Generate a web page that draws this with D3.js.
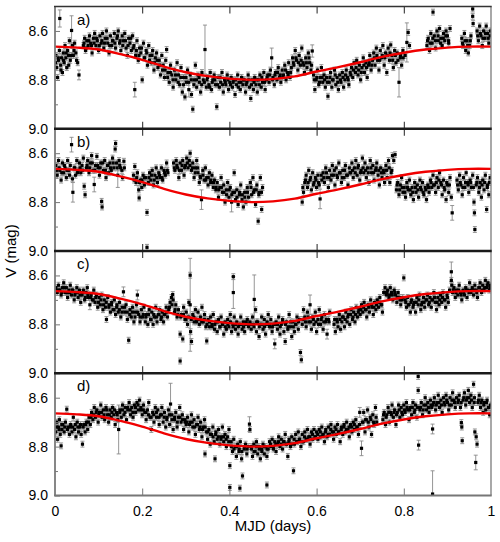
<!DOCTYPE html>
<html>
<head>
<meta charset="utf-8">
<script src="https://cdn.jsdelivr.net/npm/d3@7"></script>
<style>
    body { margin: 0; background: #fff; }
    text { font-family: "Liberation Sans", Arial, sans-serif; fill: #000; }
</style>
</head>
<body>
<svg id="grafico" width="500" height="542"></svg>
<script>
"use strict";

// x axis: phase (MJD days folded), y axis: V magnitude (inverted)
var xTicks = [0, 0.2, 0.4, 0.6, 0.8, 1];
var xTickLabels = ["0", "0.2", "0.4", "0.6", "0.8", "1"];
var yMajor = [8.6, 8.8, 9.0];
var yMinor = [8.7, 8.9];
var panelNames = ["a)", "b)", "c)", "d)"];
var xTitle = "MJD (days)";
var yTitle = "V (mag)";

// typical photometric error when none is given for a point
var typicalErr = 0.012;

// red model curve (same in all four panels)
var curvePhase = [0, 0.05, 0.1, 0.15, 0.2, 0.25, 0.3, 0.35, 0.4, 0.45, 0.5,
    0.55, 0.6, 0.65, 0.7, 0.75, 0.8, 0.85, 0.9, 0.95, 1];
var curveMag = [8.664, 8.668, 8.676, 8.695, 8.718, 8.746, 8.769, 8.785, 8.795, 8.800, 8.797,
    8.786, 8.766, 8.748, 8.728, 8.706, 8.689, 8.676, 8.668, 8.664, 8.664];

// [phase, mag] or [phase, mag, err]
var panelA = [
    [0.002,8.70],[0.004,8.75],[0.006,8.79],[0.008,8.72],[0.010,8.68],[0.011,8.549,0.035],[0.013,8.74],[0.015,8.71],
    [0.017,8.77],[0.019,8.69],[0.021,8.73],[0.023,8.66],[0.025,8.71],[0.027,8.75],[0.029,8.68],[0.031,8.70],
    [0.033,8.64],[0.035,8.72],[0.038,8.598,0.06],[0.040,8.66],[0.042,8.70],[0.045,8.65],[0.048,8.69],[0.052,8.73],
    [0.055,8.78,0.02],[0.065,8.66],[0.068,8.63],[0.070,8.68],[0.073,8.64],[0.076,8.66],[0.079,8.62],[0.082,8.65],
    [0.085,8.69],[0.088,8.63],[0.091,8.61],[0.094,8.66],[0.097,8.64],[0.100,8.68],[0.103,8.62],[0.106,8.65],
    [0.109,8.61],[0.112,8.67],[0.115,8.63],[0.118,8.60],[0.121,8.65],[0.124,8.69],[0.127,8.62],[0.130,8.66],
    [0.133,8.64],[0.136,8.61],[0.139,8.67],[0.142,8.63],[0.145,8.60],[0.148,8.65],[0.151,8.68],[0.154,8.62],
    [0.157,8.64],[0.160,8.61],[0.163,8.67],[0.166,8.70],[0.169,8.63],[0.172,8.65],[0.175,8.68],[0.178,8.62],
    [0.181,8.66],[0.183,8.84,0.03],[0.185,8.70],[0.188,8.64],[0.191,8.72],[0.194,8.67],[0.197,8.69],[0.200,8.80],
    [0.203,8.65],[0.206,8.71],[0.209,8.68],[0.212,8.74],[0.215,8.66],[0.218,8.70],[0.221,8.73],[0.224,8.68],
    [0.227,8.76],[0.230,8.71],[0.233,8.69],[0.236,8.75],[0.239,8.72],[0.242,8.78],[0.245,8.70],[0.248,8.74],
    [0.251,8.79],[0.254,8.72],[0.256,8.676],[0.259,8.77],[0.262,8.81],[0.265,8.74],[0.268,8.78],[0.271,8.83],
    [0.274,8.76],[0.277,8.80],[0.280,8.73],[0.283,8.78],[0.286,8.82],[0.289,8.75],[0.292,8.85],[0.295,8.79],
    [0.298,8.87],[0.301,8.81],[0.304,8.76],[0.307,8.84,0.03],[0.310,8.78],[0.313,8.86],[0.316,8.92],[0.319,8.80],
    [0.322,8.74],[0.325,8.83],[0.328,8.78],[0.331,8.81],[0.334,8.85],[0.337,8.77],[0.340,8.80],[0.344,8.676,0.1],
    [0.347,8.83],[0.350,8.79],[0.353,8.82],[0.356,8.77],[0.359,8.84],[0.362,8.80],[0.365,8.78],[0.368,8.82],
    [0.371,8.91],[0.374,8.79],[0.377,8.83],[0.380,8.81],[0.383,8.77],[0.386,8.85],[0.389,8.80],[0.392,8.82],
    [0.395,8.78],[0.398,8.84],[0.401,8.81],[0.404,8.79],[0.407,8.83],[0.410,8.80],[0.413,8.86],[0.416,8.82],
    [0.419,8.78],[0.422,8.81],[0.425,8.84],[0.428,8.79],[0.431,8.82],[0.434,8.80],[0.437,8.85],[0.440,8.81],
    [0.443,8.78],[0.446,8.83],[0.449,8.876],[0.452,8.80],[0.455,8.84],[0.458,8.79],[0.461,8.82],[0.464,8.85],
    [0.467,8.80],[0.470,8.78],[0.473,8.83],[0.476,8.81],[0.479,8.77],[0.482,8.84],[0.485,8.80],[0.488,8.78],
    [0.491,8.81],[0.494,8.76],[0.497,8.71,0.04],[0.500,8.79],[0.503,8.82],[0.506,8.77],[0.509,8.80],[0.512,8.75],
    [0.515,8.79],[0.518,8.81],[0.521,8.76],[0.524,8.78],[0.527,8.74],[0.530,8.80],[0.533,8.77],[0.536,8.73],
    [0.539,8.79],[0.542,8.75],[0.545,8.71],[0.548,8.74],[0.551,8.68],[0.554,8.72],[0.557,8.76],[0.560,8.70],
    [0.563,8.74],[0.566,8.67],[0.569,8.73],[0.572,8.77],[0.575,8.71],[0.578,8.75],[0.581,8.69],[0.584,8.73],
    [0.587,8.76],[0.590,8.682,0.025],[0.593,8.78],[0.596,8.84],[0.599,8.80],[0.602,8.76],[0.605,8.82],[0.608,8.79],
    [0.611,8.75],[0.614,8.81],[0.617,8.78],[0.620,8.83],[0.623,8.79],[0.626,8.867],[0.629,8.81],[0.632,8.77],
    [0.635,8.83],[0.638,8.80],[0.641,8.76],[0.644,8.82],[0.647,8.79],[0.650,8.84],[0.653,8.78],[0.656,8.81],
    [0.659,8.77],[0.662,8.83],[0.665,8.80],[0.668,8.76],[0.671,8.79],[0.674,8.82],[0.677,8.77],[0.680,8.75],
    [0.683,8.79],[0.686,8.73],[0.689,8.77],[0.692,8.72],[0.695,8.78],[0.698,8.74],[0.701,8.80],[0.704,8.75],
    [0.707,8.71],[0.710,8.77],[0.713,8.73],[0.716,8.79],[0.719,8.74],[0.722,8.70],[0.725,8.76],[0.728,8.72],
    [0.731,8.69],[0.734,8.74],[0.737,8.67],[0.740,8.72],[0.743,8.76],[0.746,8.68],[0.749,8.71],[0.752,8.66],
    [0.755,8.74],[0.758,8.69],[0.761,8.77],[0.764,8.67],[0.767,8.72],[0.770,8.657],[0.773,8.70],[0.776,8.75],
    [0.779,8.68],[0.782,8.73],[0.785,8.69],[0.789,8.81,0.06],[0.792,8.71],[0.795,8.74],[0.798,8.68],[0.803,8.70],
    [0.807,8.647,0.08],[0.810,8.606],[0.813,8.66],[0.853,8.66],[0.856,8.63],[0.859,8.68],[0.862,8.61],[0.865,8.65],
    [0.867,8.523],[0.870,8.62],[0.873,8.67],[0.876,8.60],[0.879,8.64],[0.882,8.59],[0.885,8.63],[0.888,8.66],
    [0.891,8.61],[0.894,8.64],[0.897,8.60],[0.900,8.62],[0.903,8.65],[0.906,8.59],[0.933,8.63],[0.936,8.66],
    [0.939,8.61],[0.942,8.68],[0.945,8.64],[0.948,8.69],[0.951,8.66],[0.954,8.62],[0.958,8.51],[0.958,8.54],
    [0.959,8.57],[0.968,8.60],[0.971,8.64],[0.974,8.58],[0.977,8.62],[0.980,8.66],[0.983,8.60],[0.986,8.63],
    [0.989,8.58],[0.992,8.61],[0.995,8.65],[0.998,8.62]
];

// denser middle of the cloud, read between the points above
var panelA2 = [
    [0.0015,8.73],[0.0075,8.71],[0.0135,8.76],[0.0195,8.72],[0.0255,8.69],[0.0315,8.74],[0.0375,8.70],[0.0435,8.68],
    [0.0495,8.72],[0.0665,8.65],[0.0715,8.67],[0.0775,8.64],[0.0835,8.66],[0.0895,8.65],[0.0955,8.63],[0.1015,8.66],
    [0.1075,8.64],[0.1135,8.65],[0.1195,8.63],[0.1255,8.66],[0.1315,8.64],[0.1375,8.65],[0.1435,8.62],[0.1495,8.64],
    [0.1555,8.66],[0.1615,8.64],[0.1675,8.66],[0.1735,8.63],[0.1795,8.67],[0.1865,8.68],[0.1925,8.70],[0.1985,8.67],
    [0.2045,8.71],[0.2105,8.69],[0.2165,8.72],[0.2225,8.70],[0.2285,8.73],[0.2345,8.72],[0.2405,8.74],[0.2465,8.76],
    [0.2525,8.76],[0.2585,8.79],[0.2645,8.77],[0.2705,8.80],[0.2765,8.78],[0.2825,8.81],[0.2885,8.79],[0.2945,8.82],
    [0.3005,8.79],[0.3065,8.81],[0.3125,8.80],[0.3185,8.82],[0.3245,8.80],[0.3305,8.79],[0.3365,8.82],[0.3425,8.81],
    [0.3485,8.80],[0.3545,8.83],[0.3605,8.81],[0.3665,8.80],[0.3725,8.82],[0.3785,8.79],[0.3845,8.82],[0.3905,8.81],
    [0.3965,8.80],[0.4025,8.82],[0.4085,8.81],[0.4145,8.80],[0.4205,8.83],[0.4265,8.81],[0.4325,8.80],[0.4385,8.82],
    [0.4445,8.80],[0.4505,8.82],[0.4565,8.81],[0.4625,8.80],[0.4685,8.82],[0.4745,8.79],[0.4805,8.81],[0.4865,8.79],
    [0.4925,8.78],[0.4985,8.80],[0.5045,8.78],[0.5105,8.77],[0.5165,8.78],[0.5225,8.79],[0.5285,8.76],[0.5345,8.78],
    [0.5405,8.77],[0.5465,8.73],[0.5525,8.71],[0.5585,8.73],[0.5645,8.72],[0.5705,8.74],[0.5765,8.73],[0.5825,8.71],
    [0.5885,8.74],[0.5945,8.80],[0.6005,8.79],[0.6065,8.81],[0.6125,8.79],[0.6185,8.80],[0.6245,8.81],[0.6305,8.79],
    [0.6365,8.80],[0.6425,8.78],[0.6485,8.81],[0.6545,8.80],[0.6605,8.79],[0.6665,8.78],[0.6725,8.80],[0.6785,8.78],
    [0.6845,8.76],[0.6905,8.75],[0.6965,8.76],[0.7025,8.77],[0.7085,8.74],[0.7145,8.75],[0.7205,8.73],[0.7265,8.74],
    [0.7325,8.71],[0.7385,8.70],[0.7445,8.72],[0.7505,8.70],[0.7565,8.71],[0.7625,8.70],[0.7685,8.69],[0.7745,8.72],
    [0.7805,8.70],[0.7865,8.72],[0.7925,8.70],[0.7985,8.71],[0.8545,8.64],[0.8605,8.65],[0.8665,8.63],[0.8725,8.64],
    [0.8785,8.62],[0.8845,8.65],[0.8905,8.63],[0.8965,8.62],[0.9025,8.64],[0.9345,8.65],[0.9405,8.64],[0.9465,8.66],
    [0.9525,8.64],[0.9695,8.62],[0.9755,8.61],[0.9815,8.63],[0.9875,8.61],[0.9935,8.63],[0.9985,8.60]
];

var panelB = [
    [0.002,8.65],[0.005,8.69],[0.008,8.63],[0.011,8.67],[0.014,8.71],[0.017,8.64],[0.020,8.68],[0.023,8.66],
    [0.026,8.70],[0.029,8.63],[0.032,8.67],[0.035,8.65],[0.038,8.565,0.03],[0.040,8.705],[0.041,8.76,0.04],[0.044,8.66],
    [0.047,8.69],[0.050,8.63],[0.053,8.67],[0.056,8.64],[0.059,8.68],[0.062,8.65],[0.065,8.62],[0.067,8.735],
    [0.069,8.77],[0.072,8.66],[0.075,8.63],[0.078,8.68],[0.081,8.64],[0.084,8.61],[0.087,8.67],[0.090,8.728,0.03],
    [0.093,8.65],[0.096,8.613],[0.099,8.66],[0.102,8.69],[0.105,8.64],[0.107,8.797],[0.108,8.82],[0.111,8.67],
    [0.114,8.63],[0.117,8.70],[0.120,8.65],[0.123,8.68],[0.126,8.64],[0.129,8.67],[0.132,8.62],[0.135,8.66],
    [0.138,8.583],[0.139,8.56],[0.141,8.64],[0.144,8.69,0.05],[0.147,8.63],[0.150,8.66],[0.155,8.70],[0.158,8.633],
    [0.159,8.66],[0.180,8.69],[0.183,8.654],[0.186,8.72],[0.189,8.68],[0.192,8.75],[0.193,8.783],[0.196,8.71],
    [0.199,8.74],[0.202,8.69],[0.205,8.73],[0.208,8.70],[0.211,8.842],[0.211,8.985],[0.214,8.72],[0.217,8.68],
    [0.220,8.71],[0.223,8.67],[0.226,8.73],[0.229,8.69],[0.232,8.66],[0.235,8.72],[0.238,8.68],[0.241,8.70],
    [0.244,8.66],[0.247,8.71],[0.250,8.67],[0.253,8.69],[0.256,8.64],[0.259,8.68],[0.272,8.64],[0.275,8.67],
    [0.278,8.63],[0.281,8.66],[0.284,8.70],[0.287,8.64],[0.290,8.67],[0.293,8.63],[0.296,8.69],[0.299,8.65],
    [0.302,8.62],[0.305,8.66],[0.308,8.63],[0.310,8.60],[0.313,8.67],[0.316,8.64],[0.319,8.70],[0.322,8.66],
    [0.325,8.63],[0.328,8.68],[0.331,8.72],[0.333,8.695],[0.336,8.79,0.04],[0.339,8.67],[0.342,8.71],[0.345,8.66],
    [0.348,8.70],[0.351,8.73],[0.354,8.68],[0.357,8.72],[0.360,8.69],[0.363,8.74],[0.366,8.71],[0.369,8.75],
    [0.372,8.72],[0.375,8.78],[0.378,8.74],[0.381,8.70],[0.384,8.76],[0.387,8.73],[0.390,8.80],[0.393,8.75],
    [0.396,8.72],[0.399,8.78],[0.402,8.74],[0.405,8.80,0.04],[0.408,8.76],[0.411,8.68],[0.414,8.79],[0.417,8.75],
    [0.420,8.81],[0.423,8.77],[0.426,8.73],[0.429,8.79],[0.432,8.82],[0.435,8.76],[0.438,8.80],[0.441,8.74],
    [0.444,8.78],[0.448,8.72],[0.451,8.77],[0.454,8.70],[0.457,8.75],[0.460,8.81],[0.463,8.73],[0.466,8.878],
    [0.468,8.76],[0.471,8.70],[0.474,8.83],[0.476,8.74],[0.567,8.80],[0.570,8.76],[0.573,8.72],[0.576,8.69],
    [0.579,8.74],[0.582,8.67],[0.585,8.71],[0.588,8.75],[0.591,8.68],[0.594,8.72],[0.597,8.70],[0.600,8.74],
    [0.603,8.69],[0.606,8.73],[0.608,8.787,0.04],[0.612,8.71],[0.615,8.68],[0.618,8.72],[0.621,8.66],[0.624,8.70],
    [0.627,8.74],[0.630,8.67],[0.633,8.71],[0.636,8.65],[0.639,8.69],[0.642,8.73],[0.645,8.66],[0.648,8.70],
    [0.651,8.64],[0.654,8.68],[0.657,8.72],[0.660,8.67],[0.663,8.70],[0.666,8.65],[0.669,8.69],[0.672,8.73],
    [0.675,8.66],[0.678,8.68],[0.681,8.64],[0.684,8.70],[0.687,8.66],[0.690,8.63],[0.693,8.69],[0.696,8.65],
    [0.699,8.71],[0.702,8.67],[0.705,8.62],[0.708,8.68],[0.711,8.64],[0.714,8.70],[0.717,8.66],[0.720,8.72],
    [0.723,8.63],[0.726,8.68],[0.729,8.65],[0.732,8.71],[0.735,8.67],[0.738,8.64],[0.741,8.69],[0.744,8.73],
    [0.747,8.66],[0.750,8.70],[0.753,8.67],[0.756,8.72],[0.759,8.65],[0.762,8.70],[0.765,8.63],[0.768,8.72],
    [0.771,8.68],[0.774,8.61],[0.777,8.63],[0.780,8.606],[0.783,8.75],[0.786,8.72],[0.789,8.77],[0.792,8.73],
    [0.795,8.70],[0.798,8.76],[0.801,8.74],[0.804,8.78],[0.807,8.72],[0.810,8.75],[0.813,8.71],[0.816,8.77],
    [0.819,8.74],[0.822,8.79],[0.825,8.72],[0.828,8.76],[0.831,8.73],[0.834,8.78],[0.837,8.71],[0.840,8.75],
    [0.843,8.72],[0.846,8.77],[0.849,8.74],[0.852,8.79],[0.855,8.73],[0.858,8.76],[0.861,8.71],[0.864,8.74],
    [0.867,8.69],[0.870,8.73],[0.873,8.76],[0.876,8.70],[0.879,8.74],[0.882,8.68],[0.885,8.72],[0.888,8.77],
    [0.891,8.71],[0.894,8.75],[0.897,8.79],[0.900,8.73],[0.903,8.76],[0.906,8.70],[0.909,8.78],[0.911,8.844,0.03],
    [0.922,8.71],[0.925,8.75],[0.928,8.69],[0.931,8.73],[0.934,8.77],[0.937,8.70],[0.940,8.74],[0.943,8.68],
    [0.946,8.72],[0.949,8.76],[0.952,8.71],[0.955,8.74],[0.958,8.69],[0.961,8.80],[0.962,8.844],[0.963,8.912],
    [0.966,8.73],[0.969,8.70],[0.972,8.76],[0.975,8.72],[0.978,8.78],[0.981,8.71],[0.984,8.75],[0.987,8.69],
    [0.990,8.83],[0.992,8.73],[0.995,8.77],[0.998,8.70]
];

var panelB2 = [
    [0.0035,8.67],[0.0095,8.66],[0.0155,8.68],[0.0215,8.65],[0.0275,8.67],[0.0335,8.69],[0.0455,8.66],[0.0515,8.68],
    [0.0575,8.66],[0.0635,8.67],[0.0735,8.65],[0.0795,8.66],[0.0855,8.64],[0.0915,8.67],[0.0975,8.65],[0.1035,8.66],
    [0.1095,8.64],[0.1155,8.67],[0.1215,8.65],[0.1275,8.66],[0.1335,8.64],[0.1425,8.66],[0.1485,8.65],[0.1535,8.67],
    [0.1815,8.71],[0.1875,8.70],[0.1935,8.72],[0.1995,8.71],[0.2055,8.70],[0.2155,8.70],[0.2215,8.69],[0.2275,8.71],
    [0.2335,8.70],[0.2395,8.69],[0.2455,8.70],[0.2515,8.68],[0.2575,8.67],[0.2735,8.66],[0.2795,8.65],[0.2855,8.67],
    [0.2915,8.65],[0.2975,8.66],[0.3035,8.64],[0.3095,8.65],[0.3155,8.66],[0.3215,8.68],[0.3275,8.66],[0.3335,8.70],
    [0.3395,8.69],[0.3455,8.71],[0.3515,8.70],[0.3575,8.71],[0.3635,8.72],[0.3695,8.74],[0.3755,8.75],[0.3815,8.74],
    [0.3875,8.76],[0.3935,8.77],[0.3995,8.75],[0.4055,8.77],[0.4115,8.76],[0.4175,8.78],[0.4235,8.76],[0.4295,8.77],
    [0.4355,8.78],[0.4415,8.76],[0.4495,8.74],[0.4555,8.76],[0.4615,8.75],[0.4675,8.77],[0.4735,8.76],[0.5685,8.74],
    [0.5745,8.71],[0.5805,8.72],[0.5865,8.70],[0.5925,8.73],[0.5985,8.71],[0.6045,8.72],[0.6105,8.69],[0.6165,8.70],
    [0.6225,8.68],[0.6285,8.70],[0.6345,8.69],[0.6405,8.67],[0.6465,8.69],[0.6525,8.68],[0.6585,8.70],[0.6645,8.67],
    [0.6705,8.69],[0.6765,8.68],[0.6825,8.67],[0.6885,8.68],[0.6945,8.66],[0.7005,8.68],[0.7065,8.66],[0.7125,8.67],
    [0.7185,8.68],[0.7245,8.66],[0.7305,8.68],[0.7365,8.66],[0.7425,8.67],[0.7485,8.68],[0.7545,8.68],[0.7605,8.67],
    [0.7665,8.66],[0.7725,8.67],[0.7845,8.73],[0.7905,8.75],[0.7965,8.74],[0.8025,8.76],[0.8085,8.74],[0.8145,8.75],
    [0.8205,8.76],[0.8265,8.74],[0.8325,8.75],[0.8385,8.74],[0.8445,8.76],[0.8505,8.75],[0.8565,8.74],[0.8625,8.72],
    [0.8685,8.73],[0.8745,8.72],[0.8805,8.71],[0.8865,8.73],[0.8925,8.74],[0.8985,8.72],[0.9045,8.73],[0.9235,8.73],
    [0.9295,8.72],[0.9355,8.74],[0.9415,8.72],[0.9475,8.73],[0.9535,8.72],[0.9595,8.74],[0.9675,8.72],[0.9735,8.74],
    [0.9795,8.73],[0.9855,8.72],[0.9915,8.74],[0.9965,8.72]
];

var panelC = [
    [0.002,8.65],[0.005,8.67],[0.008,8.64],[0.011,8.66],[0.014,8.68],[0.017,8.65],[0.020,8.63],[0.023,8.67],
    [0.026,8.65],[0.029,8.69],[0.032,8.66],[0.035,8.64],[0.038,8.68],[0.041,8.66],[0.044,8.70],[0.047,8.67],
    [0.050,8.65],[0.053,8.69],[0.056,8.66],[0.059,8.71],[0.062,8.68],[0.065,8.66],[0.068,8.70],[0.071,8.67],
    [0.074,8.65],[0.077,8.69],[0.080,8.72,0.02],[0.083,8.68],[0.086,8.70],[0.089,8.66],[0.092,8.71],[0.095,8.68],
    [0.098,8.73],[0.101,8.69],[0.104,8.72],[0.107,8.68],[0.110,8.74],[0.113,8.70],[0.116,8.73],[0.118,8.78],
    [0.121,8.69],[0.124,8.72],[0.127,8.75],[0.130,8.71],[0.133,8.74],[0.136,8.70],[0.139,8.76],[0.142,8.72],
    [0.145,8.75],[0.148,8.71],[0.151,8.77],[0.154,8.73],[0.157,8.667,0.02],[0.160,8.75],[0.163,8.72],[0.166,8.78],
    [0.169,8.865],[0.172,8.74],[0.175,8.77],[0.178,8.73],[0.181,8.79],[0.184,8.75],[0.187,8.72],[0.189,8.68,0.02],
    [0.192,8.76],[0.195,8.79],[0.198,8.74],[0.201,8.77],[0.204,8.73],[0.207,8.79],[0.210,8.76],[0.213,8.80],
    [0.216,8.74],[0.219,8.78],[0.222,8.75],[0.225,8.80],[0.228,8.77],[0.231,8.73],[0.234,8.79],[0.237,8.76],
    [0.240,8.74],[0.243,8.78],[0.246,8.75],[0.249,8.79],[0.252,8.76],[0.255,8.73],[0.258,8.77],[0.261,8.74],
    [0.264,8.71],[0.267,8.69],[0.270,8.678],[0.271,8.70],[0.274,8.75],[0.277,8.72],[0.280,8.77],[0.283,8.74],
    [0.287,8.84],[0.287,8.95],[0.290,8.76],[0.293,8.86],[0.295,8.73],[0.298,8.78],[0.301,8.75],[0.304,8.80],
    [0.307,8.71],[0.310,8.599],[0.310,8.72,0.19],[0.311,8.83],[0.313,8.87],[0.316,8.76],[0.319,8.79],[0.322,8.74],
    [0.325,8.78],[0.328,8.75],[0.331,8.80],[0.334,8.77],[0.337,8.73],[0.340,8.79],[0.343,8.76],[0.346,8.81],
    [0.348,8.868],[0.351,8.78],[0.354,8.81],[0.357,8.77],[0.360,8.80],[0.363,8.76],[0.366,8.82],[0.369,8.79],
    [0.372,8.83],[0.375,8.78],[0.378,8.81],[0.381,8.77],[0.384,8.80],[0.387,8.84],[0.390,8.79],[0.393,8.82],
    [0.396,8.78],[0.399,8.81],[0.402,8.76],[0.405,8.83],[0.408,8.80],[0.409,8.605],[0.409,8.67,0.065],[0.411,8.77],
    [0.414,8.82],[0.417,8.79],[0.420,8.84],[0.423,8.80],[0.426,8.77],[0.429,8.82],[0.432,8.79],[0.435,8.83],
    [0.438,8.80],[0.441,8.78],[0.444,8.81],[0.447,8.79],[0.450,8.82],[0.453,8.77],[0.455,8.80],[0.457,8.698,0.1],
    [0.460,8.74],[0.462,8.83],[0.465,8.79],[0.468,8.85],[0.471,8.80],[0.474,8.77],[0.477,8.82],[0.480,8.78],
    [0.483,8.84],[0.486,8.80],[0.489,8.76],[0.492,8.81],[0.495,8.78],[0.498,8.83],[0.501,8.80],[0.504,8.88,0.02],
    [0.507,8.79],[0.510,8.82],[0.513,8.77],[0.516,8.84],[0.519,8.80],[0.522,8.78],[0.525,8.83],[0.528,8.87],
    [0.531,8.79],[0.534,8.82],[0.537,8.76],[0.540,8.81],[0.543,8.85],[0.546,8.79],[0.549,8.83],[0.552,8.80],
    [0.555,8.77],[0.558,8.82],[0.561,8.78],[0.563,8.915],[0.565,8.945],[0.567,8.80],[0.570,8.74],[0.573,8.77],
    [0.576,8.81],[0.579,8.75],[0.582,8.79],[0.585,8.72,0.04],[0.588,8.82],[0.591,8.77],[0.594,8.80],[0.597,8.75],
    [0.600,8.83],[0.603,8.78],[0.606,8.74],[0.609,8.80],[0.612,8.77],[0.615,8.82],[0.618,8.76],[0.621,8.79],
    [0.624,8.84,0.02],[0.627,8.78],[0.630,8.75],[0.640,8.80],[0.643,8.83],[0.646,8.78],[0.649,8.81],[0.652,8.76],
    [0.655,8.82],[0.658,8.79],[0.661,8.77],[0.664,8.81],[0.667,8.75],[0.670,8.79],[0.673,8.76],[0.676,8.80],
    [0.679,8.74],[0.682,8.78],[0.685,8.75],[0.688,8.79],[0.691,8.73],[0.694,8.77],[0.697,8.74],[0.700,8.76],
    [0.703,8.72],[0.706,8.75],[0.709,8.71],[0.712,8.74],[0.715,8.77],[0.718,8.72],[0.721,8.75],[0.724,8.70],
    [0.727,8.73],[0.730,8.76],[0.733,8.71],[0.736,8.74],[0.739,8.70],[0.742,8.73],[0.745,8.69],[0.748,8.72],
    [0.751,8.75],[0.754,8.67],[0.757,8.65],[0.760,8.68],[0.763,8.66],[0.766,8.69],[0.769,8.65],[0.772,8.67],
    [0.775,8.70],[0.778,8.66],[0.781,8.68],[0.784,8.71],[0.787,8.67],[0.790,8.69],[0.793,8.72],[0.796,8.70],
    [0.800,8.61],[0.803,8.70],[0.806,8.73],[0.809,8.69],[0.812,8.72],[0.815,8.75],[0.818,8.70],[0.821,8.73],
    [0.824,8.71],[0.827,8.75],[0.830,8.69],[0.833,8.72],[0.836,8.68],[0.839,8.74],[0.842,8.71],[0.845,8.69],
    [0.848,8.73],[0.851,8.70],[0.854,8.68],[0.857,8.72],[0.860,8.69],[0.863,8.73],[0.866,8.70],[0.869,8.67],
    [0.872,8.71],[0.875,8.74],[0.878,8.69],[0.881,8.72],[0.884,8.68],[0.887,8.71],[0.890,8.67],[0.893,8.70],
    [0.896,8.73],[0.899,8.68],[0.902,8.71],[0.905,8.66],[0.909,8.585,0.04],[0.909,8.62],[0.910,8.64],[0.912,8.67],
    [0.915,8.65],[0.918,8.69],[0.921,8.66],[0.924,8.68],[0.927,8.64],[0.930,8.67],[0.933,8.70],[0.936,8.66],
    [0.939,8.68],[0.942,8.65],[0.945,8.69],[0.948,8.66],[0.951,8.63],[0.954,8.67],[0.957,8.65],[0.960,8.68],
    [0.963,8.64],[0.966,8.66],[0.969,8.69],[0.972,8.65],[0.975,8.63],[0.978,8.67],[0.981,8.64],[0.984,8.66],
    [0.987,8.62],[0.990,8.65],[0.993,8.63],[0.996,8.66],[0.999,8.64]
];

var panelC2 = [
    [0.0035,8.66],[0.0095,8.66],[0.0155,8.67],[0.0215,8.65],[0.0275,8.67],[0.0335,8.67],[0.0395,8.66],[0.0455,8.68],
    [0.0515,8.67],[0.0575,8.68],[0.0635,8.67],[0.0695,8.69],[0.0755,8.68],[0.0815,8.69],[0.0875,8.70],[0.0935,8.69],
    [0.0995,8.71],[0.1055,8.70],[0.1115,8.72],[0.1175,8.71],[0.1235,8.73],[0.1295,8.72],[0.1355,8.74],[0.1415,8.73],
    [0.1475,8.74],[0.1535,8.75],[0.1595,8.73],[0.1655,8.75],[0.1715,8.76],[0.1775,8.75],[0.1835,8.77],[0.1895,8.75],
    [0.1955,8.77],[0.2025,8.76],[0.2085,8.77],[0.2145,8.76],[0.2205,8.78],[0.2265,8.76],[0.2325,8.77],[0.2385,8.76],
    [0.2445,8.77],[0.2505,8.76],[0.2565,8.75],[0.2625,8.73],[0.2685,8.72],[0.2755,8.74],[0.2815,8.76],[0.2885,8.77],
    [0.2945,8.76],[0.3005,8.78],[0.3065,8.77],[0.3125,8.78],[0.3185,8.77],[0.3245,8.79],[0.3305,8.78],[0.3365,8.79],
    [0.3425,8.78],[0.3485,8.80],[0.3545,8.79],[0.3605,8.81],[0.3665,8.80],[0.3725,8.79],[0.3785,8.81],[0.3845,8.80],
    [0.3905,8.81],[0.3965,8.80],[0.4025,8.79],[0.4085,8.81],[0.4145,8.80],[0.4205,8.81],[0.4265,8.80],[0.4325,8.81],
    [0.4385,8.79],[0.4445,8.80],[0.4505,8.80],[0.4565,8.81],[0.4625,8.79],[0.4685,8.81],[0.4745,8.80],[0.4805,8.81],
    [0.4865,8.79],[0.4925,8.80],[0.4985,8.81],[0.5045,8.80],[0.5105,8.80],[0.5165,8.81],[0.5225,8.79],[0.5285,8.80],
    [0.5345,8.81],[0.5405,8.79],[0.5465,8.81],[0.5525,8.80],[0.5585,8.79],[0.5685,8.78],[0.5745,8.79],[0.5805,8.77],
    [0.5865,8.79],[0.5925,8.78],[0.5985,8.79],[0.6045,8.80],[0.6105,8.78],[0.6165,8.79],[0.6225,8.78],[0.6285,8.79],
    [0.6415,8.78],[0.6475,8.79],[0.6535,8.78],[0.6595,8.77],[0.6655,8.78],[0.6715,8.77],[0.6775,8.76],[0.6835,8.77],
    [0.6895,8.76],[0.6955,8.75],[0.7015,8.74],[0.7075,8.73],[0.7135,8.74],[0.7195,8.73],[0.7255,8.72],[0.7315,8.73],
    [0.7375,8.72],[0.7435,8.71],[0.7495,8.72],[0.7555,8.67],[0.7615,8.67],[0.7675,8.68],[0.7735,8.68],[0.7795,8.67],
    [0.7855,8.69],[0.7915,8.70],[0.7975,8.69],[0.8045,8.71],[0.8105,8.72],[0.8165,8.71],[0.8225,8.72],[0.8285,8.71],
    [0.8345,8.70],[0.8405,8.72],[0.8465,8.71],[0.8525,8.70],[0.8585,8.71],[0.8645,8.70],[0.8705,8.69],[0.8765,8.71],
    [0.8825,8.70],[0.8885,8.69],[0.8945,8.70],[0.9005,8.69],[0.9135,8.66],[0.9195,8.67],[0.9255,8.66],[0.9315,8.68],
    [0.9375,8.67],[0.9435,8.66],[0.9495,8.67],[0.9555,8.66],[0.9615,8.66],[0.9675,8.67],[0.9735,8.65],[0.9795,8.66],
    [0.9855,8.65],[0.9915,8.64],[0.9975,8.65]
];

var panelD = [
    [0.002,8.74],[0.004,8.70],[0.006,8.77],[0.008,8.72],[0.010,8.69],[0.012,8.75],[0.014,8.797],[0.016,8.73],
    [0.018,8.71],[0.021,8.74],[0.024,8.70],[0.027,8.647],[0.030,8.72],[0.033,8.75],[0.036,8.71],[0.039,8.74],
    [0.042,8.68],[0.045,8.73],[0.048,8.76],[0.051,8.70],[0.054,8.74],[0.057,8.72],[0.060,8.75],[0.063,8.79],
    [0.066,8.71],[0.069,8.74],[0.072,8.70],[0.075,8.73],[0.078,8.68],[0.081,8.71],[0.084,8.66],[0.087,8.69],
    [0.090,8.64],[0.093,8.68],[0.096,8.65],[0.099,8.70],[0.102,8.66],[0.105,8.63],[0.108,8.68],[0.111,8.65],
    [0.114,8.69],[0.117,8.64],[0.120,8.67],[0.123,8.70],[0.126,8.65],[0.129,8.68],[0.132,8.64],[0.135,8.67],
    [0.138,8.71],[0.141,8.66],[0.144,8.69],[0.146,8.73,0.1],[0.149,8.65],[0.152,8.68],[0.155,8.63],[0.158,8.67],
    [0.161,8.64],[0.164,8.69],[0.167,8.65],[0.170,8.62],[0.173,8.67],[0.176,8.64],[0.179,8.68],[0.182,8.63],
    [0.185,8.66],[0.188,8.62],[0.191,8.65],[0.194,8.61],[0.197,8.64],[0.200,8.67],[0.203,8.63],[0.206,8.66],
    [0.209,8.69],[0.212,8.65],[0.215,8.62],[0.218,8.68],[0.221,8.73],[0.224,8.66],[0.227,8.70],[0.230,8.64],
    [0.233,8.68],[0.236,8.65],[0.239,8.71],[0.242,8.67],[0.245,8.64],[0.248,8.70],[0.251,8.66],[0.254,8.72],
    [0.257,8.68],[0.260,8.65],[0.263,8.71],[0.265,8.626,0.085],[0.268,8.67],[0.271,8.73],[0.274,8.69],[0.277,8.66],
    [0.280,8.72],[0.283,8.68],[0.286,8.64],[0.289,8.70],[0.292,8.67],[0.295,8.73],[0.298,8.69],[0.301,8.71],
    [0.304,8.68],[0.307,8.74],[0.310,8.70],[0.313,8.67],[0.316,8.72],[0.319,8.69],[0.322,8.75],[0.325,8.71],
    [0.328,8.68],[0.331,8.73],[0.334,8.70],[0.337,8.76],[0.340,8.72],[0.343,8.69],[0.344,8.83],[0.347,8.74],
    [0.350,8.77],[0.353,8.73],[0.356,8.79],[0.359,8.75],[0.362,8.72],[0.365,8.78],[0.367,8.85],[0.369,8.74],
    [0.372,8.77],[0.375,8.73],[0.378,8.79],[0.381,8.76],[0.384,8.72],[0.387,8.78],[0.390,8.75],[0.393,8.80],
    [0.396,8.76],[0.399,8.73],[0.401,8.878],[0.401,8.967],[0.404,8.78],[0.407,8.82],[0.410,8.77],[0.413,8.80],
    [0.416,8.84],[0.419,8.79],[0.422,8.82],[0.425,8.78],[0.428,8.85],[0.430,8.92],[0.424,8.97],[0.434,8.81],
    [0.437,8.79],[0.440,8.83],[0.443,8.80],[0.446,8.708,0.03],[0.447,8.73],[0.450,8.80],[0.453,8.84],[0.456,8.79],
    [0.459,8.82],[0.462,8.78],[0.465,8.83],[0.468,8.80],[0.471,8.85],[0.474,8.81],[0.477,8.79],[0.480,8.83],
    [0.483,8.80],[0.486,8.957],[0.486,8.84],[0.489,8.81],[0.492,8.78],[0.495,8.80],[0.498,8.77],[0.501,8.81],
    [0.504,8.78],[0.507,8.82],[0.510,8.79],[0.513,8.76],[0.516,8.80],[0.519,8.77],[0.522,8.81],[0.525,8.78],
    [0.528,8.75],[0.531,8.79],[0.534,8.84],[0.537,8.77],[0.540,8.80],[0.543,8.76],[0.547,8.899],[0.549,8.79],
    [0.552,8.75],[0.555,8.78],[0.558,8.74],[0.561,8.77],[0.564,8.80],[0.567,8.75],[0.570,8.78],[0.573,8.74],
    [0.576,8.77],[0.579,8.73],[0.582,8.76],[0.585,8.79],[0.588,8.74],[0.591,8.77],[0.594,8.73],[0.597,8.76],
    [0.600,8.74],[0.603,8.77],[0.606,8.73],[0.609,8.76],[0.612,8.72],[0.615,8.75],[0.618,8.78],[0.621,8.73],
    [0.624,8.76],[0.627,8.72],[0.630,8.75],[0.633,8.71],[0.636,8.74],[0.639,8.77],[0.642,8.72],[0.645,8.75],
    [0.648,8.71],[0.651,8.74],[0.654,8.78],[0.657,8.72],[0.660,8.75],[0.663,8.71],[0.666,8.74],[0.669,8.70],
    [0.672,8.73],[0.675,8.76],[0.678,8.71],[0.681,8.74],[0.684,8.70],[0.687,8.73],[0.690,8.69],[0.693,8.72],
    [0.696,8.75],[0.699,8.66,0.02],[0.703,8.807,0.03],[0.705,8.70],[0.708,8.66],[0.711,8.74],[0.714,8.69],[0.717,8.65],
    [0.720,8.72],[0.723,8.68],[0.726,8.75],[0.729,8.67],[0.732,8.71],[0.735,8.64],[0.738,8.70],[0.752,8.69],
    [0.755,8.66],[0.758,8.71],[0.761,8.67],[0.764,8.64],[0.767,8.70],[0.770,8.66],[0.773,8.63],[0.776,8.68],
    [0.779,8.65],[0.782,8.71],[0.785,8.66],[0.788,8.63],[0.791,8.68],[0.794,8.64],[0.797,8.67],[0.800,8.63],
    [0.803,8.66],[0.806,8.62],[0.809,8.65],[0.812,8.69],[0.815,8.64],[0.818,8.67],[0.821,8.62],[0.824,8.66],
    [0.827,8.63],[0.830,8.68],[0.833,8.513],[0.833,8.57],[0.833,8.64],[0.834,8.794,0.02],[0.837,8.65],[0.840,8.62],
    [0.843,8.67],[0.846,8.63],[0.849,8.60],[0.852,8.65],[0.855,8.62],[0.858,8.66],[0.861,8.61],[0.864,8.64],
    [0.866,8.994,0.095],[0.866,8.728,0.02],[0.867,8.63],[0.870,8.60],[0.873,8.65],[0.876,8.62],[0.879,8.59],[0.882,8.64],
    [0.885,8.61],[0.888,8.66],[0.891,8.60],[0.894,8.63],[0.897,8.59],[0.900,8.62],[0.903,8.65],[0.906,8.60],
    [0.909,8.63],[0.912,8.58],[0.915,8.61],[0.918,8.64],[0.921,8.60],[0.924,8.62],[0.927,8.59],[0.930,8.64],
    [0.932,8.702],[0.933,8.72],[0.934,8.776],[0.936,8.61],[0.939,8.58],[0.942,8.63],[0.945,8.60],[0.948,8.57],
    [0.951,8.62],[0.954,8.59],[0.957,8.64],[0.960,8.545],[0.962,8.60],[0.963,8.74],[0.965,8.865,0.03],[0.966,8.76],
    [0.968,8.79],[0.970,8.62],[0.973,8.59],[0.976,8.64],[0.979,8.61],[0.982,8.66],[0.985,8.62],[0.988,8.65],
    [0.991,8.61],[0.994,8.64],[0.997,8.67],[0.999,8.63]
];

var panelD2 = [
    [0.0035,8.72],[0.0095,8.73],[0.0155,8.71],[0.0225,8.72],[0.0285,8.73],[0.0345,8.72],[0.0405,8.72],[0.0465,8.71],
    [0.0525,8.72],[0.0585,8.71],[0.0645,8.72],[0.0705,8.71],[0.0765,8.70],[0.0825,8.68],[0.0885,8.67],[0.0945,8.66],
    [0.1005,8.67],[0.1065,8.66],[0.1125,8.67],[0.1185,8.65],[0.1245,8.67],[0.1305,8.66],[0.1365,8.65],[0.1425,8.67],
    [0.1485,8.66],[0.1545,8.65],[0.1605,8.66],[0.1665,8.64],[0.1725,8.65],[0.1785,8.66],[0.1845,8.64],[0.1905,8.63],
    [0.1965,8.65],[0.2025,8.65],[0.2085,8.66],[0.2145,8.67],[0.2205,8.68],[0.2265,8.67],[0.2325,8.66],[0.2385,8.68],
    [0.2445,8.67],[0.2505,8.68],[0.2565,8.69],[0.2625,8.67],[0.2685,8.69],[0.2745,8.68],[0.2805,8.70],[0.2865,8.68],
    [0.2925,8.69],[0.2985,8.70],[0.3025,8.70],[0.3085,8.71],[0.3145,8.70],[0.3205,8.72],[0.3265,8.71],[0.3325,8.72],
    [0.3385,8.73],[0.3445,8.72],[0.3505,8.74],[0.3565,8.75],[0.3625,8.76],[0.3685,8.75],[0.3745,8.76],[0.3805,8.77],
    [0.3865,8.76],[0.3925,8.77],[0.3985,8.78],[0.4045,8.80],[0.4105,8.81],[0.4165,8.80],[0.4225,8.81],[0.4285,8.82],
    [0.4345,8.80],[0.4405,8.81],[0.4505,8.81],[0.4565,8.82],[0.4625,8.80],[0.4685,8.81],[0.4745,8.82],[0.4805,8.80],
    [0.4865,8.81],[0.4945,8.79],[0.5005,8.80],[0.5065,8.79],[0.5125,8.78],[0.5185,8.79],[0.5245,8.78],[0.5305,8.79],
    [0.5365,8.78],[0.5425,8.79],[0.5485,8.77],[0.5545,8.78],[0.5605,8.77],[0.5665,8.78],[0.5725,8.76],[0.5785,8.77],
    [0.5845,8.76],[0.5905,8.75],[0.5965,8.76],[0.6025,8.75],[0.6085,8.74],[0.6145,8.75],[0.6205,8.74],[0.6265,8.75],
    [0.6325,8.73],[0.6385,8.74],[0.6445,8.73],[0.6505,8.74],[0.6565,8.73],[0.6625,8.72],[0.6685,8.73],[0.6745,8.72],
    [0.6805,8.72],[0.6865,8.71],[0.6925,8.72],[0.6985,8.71],[0.7065,8.70],[0.7125,8.69],[0.7185,8.70],[0.7245,8.69],
    [0.7305,8.70],[0.7365,8.68],[0.7535,8.67],[0.7595,8.68],[0.7655,8.66],[0.7715,8.67],[0.7775,8.66],[0.7835,8.67],
    [0.7895,8.65],[0.7955,8.66],[0.8015,8.65],[0.8075,8.64],[0.8135,8.65],[0.8195,8.64],[0.8255,8.65],[0.8315,8.64],
    [0.8385,8.64],[0.8445,8.65],[0.8505,8.63],[0.8565,8.64],[0.8625,8.63],[0.8685,8.62],[0.8745,8.63],[0.8805,8.62],
    [0.8865,8.63],[0.8925,8.62],[0.8985,8.61],[0.9045,8.63],[0.9105,8.61],[0.9165,8.62],[0.9255,8.61],[0.9315,8.62],
    [0.9375,8.60],[0.9435,8.61],[0.9495,8.60],[0.9555,8.61],[0.9615,8.62],[0.9715,8.61],[0.9775,8.62],[0.9835,8.63],
    [0.9895,8.62],[0.9955,8.64]
];

var panels = [
    panelA.concat(panelA2),
    panelB.concat(panelB2),
    panelC.concat(panelC2),
    panelD.concat(panelD2)
];

var plotLeft = 55;
var plotRight = 491;
var plotTop = 6.5;
var panelHeight = 122.25;

var svg = d3.select("#grafico");

var x = d3.scaleLinear()
    .domain([0, 1])
    .range([plotLeft, plotRight]);

var curveData = curvePhase.map(function (p, i) {
    return [p, curveMag[i]];
});

/**
 * Draws one of the stacked light-curve panels.
 * @param i Panel index (0 = top).
 * @param pontos List of [phase, mag, err] points.
 */
function desenhaPainel(i, pontos) {
    var top = plotTop + i * panelHeight;
    var bottom = top + panelHeight;

    var y = d3.scaleLinear()
        .domain([8.5, 9.0])
        .range([top, bottom]);

    var clipId = "clip-" + i;
    svg.append("clipPath")
        .attr("id", clipId)
        .append("rect")
        .attr("x", plotLeft)
        .attr("y", top)
        .attr("width", plotRight - plotLeft)
        .attr("height", panelHeight);

    var gPlot = svg.append("g")
        .attr("clip-path", "url(#" + clipId + ")");

    function erro(d) {
        return d.length > 2 ? d[2] : typicalErr;
    }

    // error bars
    var barras = gPlot.append("g")
        .attr("stroke", "#8a8a8a")
        .attr("stroke-width", 0.9)
        .selectAll("g")
        .data(pontos)
        .enter().append("g");

    barras.append("line")
        .attr("x1", function (d) { return x(d[0]); })
        .attr("x2", function (d) { return x(d[0]); })
        .attr("y1", function (d) { return y(d[1] - erro(d)); })
        .attr("y2", function (d) { return y(d[1] + erro(d)); });

    barras.append("line")
        .attr("x1", function (d) { return x(d[0]) - 2; })
        .attr("x2", function (d) { return x(d[0]) + 2; })
        .attr("y1", function (d) { return y(d[1] - erro(d)); })
        .attr("y2", function (d) { return y(d[1] - erro(d)); });

    barras.append("line")
        .attr("x1", function (d) { return x(d[0]) - 2; })
        .attr("x2", function (d) { return x(d[0]) + 2; })
        .attr("y1", function (d) { return y(d[1] + erro(d)); })
        .attr("y2", function (d) { return y(d[1] + erro(d)); });

    // data points
    gPlot.append("g")
        .selectAll("rect")
        .data(pontos)
        .enter().append("rect")
        .attr("x", function (d) { return x(d[0]) - 1.6; })
        .attr("y", function (d) { return y(d[1]) - 1.6; })
        .attr("width", 3.2)
        .attr("height", 3.2)
        .attr("fill", "#000");

    // model curve
    var linha = d3.line()
        .x(function (d) { return x(d[0]); })
        .y(function (d) { return y(d[1]); })
        .curve(d3.curveCatmullRom);

    gPlot.append("path")
        .datum(curveData)
        .attr("d", linha)
        .attr("fill", "none")
        .attr("stroke", "#f00000")
        .attr("stroke-width", 2.4);

    // y axis, major ticks with labels
    svg.append("g")
        .attr("transform", "translate(" + plotLeft + ",0)")
        .call(d3.axisLeft(y)
            .tickValues(yMajor)
            .tickSize(-5)
            .tickSizeOuter(0)
            .tickPadding(7)
            .tickFormat(d3.format(".1f")))
        .call(function (g) {
            g.select(".domain").remove();
            g.selectAll("line").attr("stroke", "#777");
            g.selectAll("text")
                .style("font-size", "14px")
                .style("font-family", "'Liberation Sans', Arial, sans-serif");
        });

    // y axis, minor ticks
    svg.append("g")
        .attr("transform", "translate(" + plotLeft + ",0)")
        .call(d3.axisLeft(y)
            .tickValues(yMinor)
            .tickSize(-3)
            .tickSizeOuter(0)
            .tickFormat(""))
        .call(function (g) {
            g.select(".domain").remove();
            g.selectAll("line").attr("stroke", "#777");
        });

    // x ticks on top and bottom edge of the panel, pointing inward
    svg.append("g")
        .attr("transform", "translate(0," + top + ")")
        .call(d3.axisTop(x)
            .tickValues(xTicks.slice(1, -1))
            .tickSize(-7)
            .tickSizeOuter(0)
            .tickFormat(""))
        .call(function (g) {
            g.select(".domain").remove();
            g.selectAll("line").attr("stroke", "#222");
        });

    var ultimo = i === panels.length - 1;

    svg.append("g")
        .attr("transform", "translate(0," + bottom + ")")
        .call(d3.axisBottom(x)
            .tickValues(ultimo ? xTicks : xTicks.slice(1, -1))
            .tickSize(-7)
            .tickSizeOuter(0)
            .tickPadding(6)
            .tickFormat(function (d) {
                return ultimo ? xTickLabels[xTicks.indexOf(d)] : "";
            }))
        .call(function (g) {
            g.select(".domain").remove();
            g.selectAll("line").attr("stroke", ultimo ? "#777" : "#222");
            g.selectAll("text")
                .attr("dy", "1em")
                .style("font-size", "14px")
                .style("font-family", "'Liberation Sans', Arial, sans-serif");
            // no tick marks on the frame corners
            g.selectAll(".tick").filter(function (d) { return d === 0 || d === 1; })
                .select("line").remove();
        });

    // panel label
    svg.append("text")
        .attr("x", 77)
        .attr("y", top + 18)
        .style("font-size", "15px")
        .text(panelNames[i]);

    // frame: left/right sides gray
    svg.append("line")
        .attr("x1", plotLeft).attr("x2", plotLeft)
        .attr("y1", top).attr("y2", bottom)
        .attr("stroke", "#7a7a7a").attr("stroke-width", 1.8);
    svg.append("line")
        .attr("x1", plotRight).attr("x2", plotRight)
        .attr("y1", top).attr("y2", bottom)
        .attr("stroke", "#7a7a7a").attr("stroke-width", 1.3);
}

panels.forEach(function (p, i) {
    desenhaPainel(i, p);
});

// horizontal frame lines: thin top, thick dividers, gray bottom
var bordas = d3.range(panels.length + 1).map(function (k) {
    return plotTop + k * panelHeight;
});

svg.append("g")
    .selectAll("line")
    .data(bordas)
    .enter().append("line")
    .attr("x1", plotLeft - 1)
    .attr("x2", plotRight + 0.7)
    .attr("y1", function (d) { return d; })
    .attr("y2", function (d) { return d; })
    .attr("stroke", function (d, k) {
        if (k === 0) return "#333";
        if (k === bordas.length - 1) return "#777";
        return "#1a1a1a";
    })
    .attr("stroke-width", function (d, k) {
        if (k === 0) return 1.3;
        if (k === bordas.length - 1) return 1.8;
        return 2.6;
    });

// axis titles
svg.append("text")
    .attr("x", (plotLeft + plotRight) / 2)
    .attr("y", 531)
    .attr("text-anchor", "middle")
    .style("font-size", "15px")
    .text(xTitle);

svg.append("text")
    .attr("transform", "translate(16," + (plotTop + panelHeight * 2) + ") rotate(-90)")
    .attr("text-anchor", "middle")
    .style("font-size", "15px")
    .text(yTitle);
</script>
</body>
</html>
